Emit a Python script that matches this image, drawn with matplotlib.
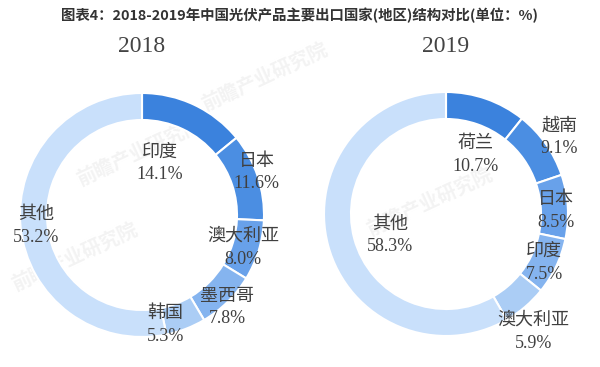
import numpy as np
import matplotlib
matplotlib.use("Agg")
import matplotlib.pyplot as plt

plt.rcParams['font.family'] = ['Liberation Serif', 'Noto Sans CJK SC', 'DejaVu Sans']

title = "图表4：2018-2019年中国光伏产品主要出口国家(地区)结构对比(单位：%)"

years = ["2018", "2019"]
labels_2018 = ["印度", "日本", "澳大利亚", "墨西哥", "韩国", "其他"]
values_2018 = [14.1, 11.6, 8.0, 7.8, 5.3, 53.2]
labels_2019 = ["荷兰", "越南", "日本", "印度", "澳大利亚", "其他"]
values_2019 = [10.7, 9.1, 8.5, 7.5, 5.9, 58.3]

colors = ["#3b82dd", "#4b8ee2", "#68a1ea", "#85b4ef", "#abcdf5", "#c9e0fb"]

# label placement (radius factor relative to outer radius, angle tweak in degrees)
lab_r_2018 = [0.45, 1.0, 0.87, 1.03, 0.92, 0.87]
lab_da_2018 = [6, 2, -1, -2, -9, 0]
lab_r_2019 = [0.54, 1.12, 0.9, 0.9, 1.2, 0.49]
lab_da_2019 = [-7, -1, -2, -1, -4, 6]

W, H = 600, 367
fig = plt.figure(figsize=(6, 3.67), dpi=100)
fig.patch.set_facecolor("white")
ax = fig.add_axes([0, 0, 1, 1])

centers = [(142, H - 215), (446, H - 214)]
R = 122
ring = 27
text_color = "#404040"

# faint watermark
for (wx, wy, rot) in [(140, 215, 25), (75, 110, 25), (265, 290, 25), (430, 165, 25)]:
    ax.text(wx, wy, "前瞻产业研究院", fontsize=14, color="#f3f3f3", rotation=rot,
            ha="center", va="center", family=['Noto Sans CJK SC'], fontweight="bold", zorder=0)

datasets = [(labels_2018, values_2018, lab_r_2018, lab_da_2018),
            (labels_2019, values_2019, lab_r_2019, lab_da_2019)]

for (cx, cy), year, (labs, vals, lr, lda) in zip(centers, years, datasets):
    wedges, _ = ax.pie(vals, colors=colors, startangle=90, counterclock=False,
                       radius=R, center=(cx, cy),
                       wedgeprops=dict(width=ring, edgecolor="white", linewidth=1.5))
    for w in wedges:
        w.set_zorder(2)
    total = sum(vals)
    cum = 0
    for lab, v, rf, da in zip(labs, vals, lr, lda):
        mid = 90 - 360 * (cum + v / 2) / total + da
        cum += v
        tx = cx + rf * R * np.cos(np.radians(mid))
        ty = cy + rf * R * np.sin(np.radians(mid))
        ax.text(tx, ty, f"{lab}\n{v:.1f}%", ha="center", va="center", fontsize=13,
                color=text_color, linespacing=1.45, zorder=3)
    ax.text(cx, H - 46, year, ha="center", va="center", fontsize=17, color="#444444")

ax.text(W / 2 - 1, H - 15, title, ha="center", va="center", fontsize=10.4, fontweight="bold",
        color="#333333", family=['Noto Sans CJK SC', 'DejaVu Sans'])

ax.set_xlim(0, W)
ax.set_ylim(0, H)
ax.set_aspect("equal")
ax.axis("off")
fig.savefig("out.png", dpi=100, facecolor="white")
